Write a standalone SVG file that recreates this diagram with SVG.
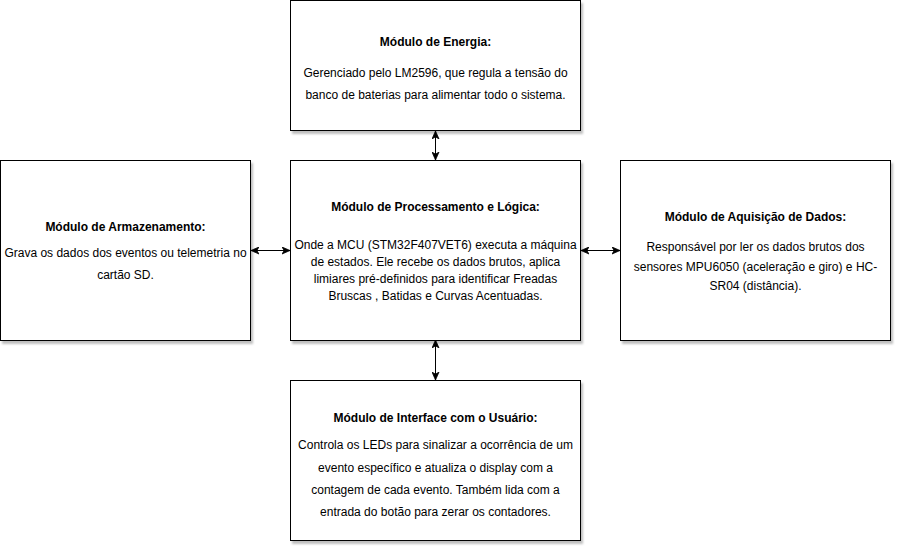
<svg xmlns="http://www.w3.org/2000/svg" width="902" height="552" viewBox="0 0 902 552">
<defs>
<filter id="sh" x="-5%" y="-5%" width="115%" height="115%">
<feDropShadow dx="2" dy="3" stdDeviation="1.2" flood-color="#000" flood-opacity="0.25"/>
</filter>
<marker id="ar" markerUnits="userSpaceOnUse" markerWidth="9" markerHeight="8" refX="8" refY="4" orient="auto-start-reverse" viewBox="0 0 9 8">
<path d="M0,0.5 L8,4 L0,7.5 L2.2,4 z" fill="#000" stroke="#000" stroke-width="0.8"/>
</marker>
<style>
.box{fill:#fff;stroke:#000;stroke-width:1;filter:url(#sh)}
text{font-family:"Liberation Sans",Arial,Helvetica,sans-serif;font-size:12px;fill:#000;text-anchor:middle}
.t{font-weight:bold}
.c{stroke:#000;stroke-width:1;fill:none;marker-start:url(#ar);marker-end:url(#ar)}
</style>
</defs>
<g id="connectors">
<line class="c" x1="435.5" y1="131" x2="435.5" y2="160"/>
<line class="c" x1="435.5" y1="340" x2="435.5" y2="380"/>
<line class="c" x1="251" y1="250.5" x2="290" y2="250.5"/>
<line class="c" x1="581" y1="250.5" x2="620" y2="250.5"/>
</g>
<g id="energia">
<rect class="box" x="290.5" y="0.5" width="290" height="130"/>
<text class="t" x="435.5" y="46">Módulo de Energia:</text>
<text x="435.5" y="77">Gerenciado pelo LM2596, que regula a tensão do</text>
<text x="435.5" y="99">banco de baterias para alimentar todo o sistema.</text>
</g>
<g id="processamento">
<rect class="box" x="290.5" y="160.5" width="290" height="180"/>
<text class="t" x="435.5" y="211">Módulo de Processamento e Lógica:</text>
<text x="435.5" y="249">Onde a MCU (STM32F407VET6) executa a máquina</text>
<text x="435.5" y="266">de estados. Ele recebe os dados brutos, aplica</text>
<text x="435.5" y="283">limiares pré-definidos para identificar Freadas</text>
<text x="435.5" y="300">Bruscas , Batidas e Curvas Acentuadas.</text>
</g>
<g id="armazenamento">
<rect class="box" x="0.5" y="160.5" width="250" height="180"/>
<text class="t" x="125.5" y="231">Módulo de Armazenamento:</text>
<text x="125.5" y="257">Grava os dados dos eventos ou telemetria no</text>
<text x="125.5" y="279">cartão SD.</text>
</g>
<g id="aquisicao">
<rect class="box" x="620.5" y="160.5" width="270" height="180"/>
<text class="t" x="755.5" y="221">Módulo de Aquisição de Dados:</text>
<text x="755.5" y="251">Responsável por ler os dados brutos dos</text>
<text x="755.5" y="271">sensores MPU6050 (aceleração e giro) e HC-</text>
<text x="755.5" y="290">SR04 (distância).</text>
</g>
<g id="interface">
<rect class="box" x="290.5" y="380.5" width="290" height="160"/>
<text class="t" x="435.5" y="422">Módulo de Interface com o Usuário:</text>
<text x="435.5" y="449">Controla os LEDs para sinalizar a ocorrência de um</text>
<text x="435.5" y="472">evento específico e atualiza o display com a</text>
<text x="435.5" y="494">contagem de cada evento. Também lida com a</text>
<text x="435.5" y="516">entrada do botão para zerar os contadores.</text>
</g>
</svg>
